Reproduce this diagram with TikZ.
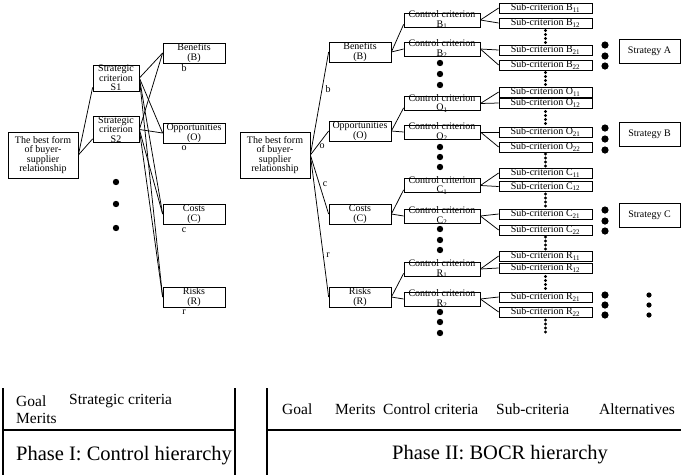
\documentclass[tikz,border=0pt]{standalone}
\usepackage{fontspec}
\setmainfont{Liberation Serif}

\newcommand{\fixbox}[3]{\parbox[c][#2][c]{#1}{\centering #3}}

\tikzset{
  box/.style={draw, line width=0.75pt, inner sep=0pt, align=center,
    font=\fontsize{10}{9.5}\selectfont},
  goalbox/.style={box, minimum width=70pt, minimum height=46pt},
  critbox/.style={box, minimum width=46pt, minimum height=26pt},
  meritbox/.style={box, minimum width=62pt, minimum height=20pt},
  ctrlbox/.style={box, minimum width=76pt, minimum height=14pt},
  subbox/.style={box, minimum width=93pt, minimum height=10pt,
    text height=6.5pt, text depth=1.5pt},
  altbox/.style={box, minimum width=61pt, minimum height=24pt},
  tag/.style={inner sep=0pt, font=\fontsize{10}{10}\selectfont},
  link/.style={line width=0.75pt},
  panel/.style={line width=1.6pt},
  headtext/.style={inner sep=0pt, anchor=west, font=\fontsize{15.5}{15}\selectfont},
  phasetext/.style={inner sep=0pt, font=\fontsize{20.5}{20}\selectfont}
}

\begin{document}
\begin{tikzpicture}[x=1pt, y=-1pt]
    \useasboundingbox (0,0) rectangle (681,475);

    % Phase I: goal and strategic criteria
    \node[goalbox] (goalI) at (43,155) {The best form\\of buyer-\\supplier\\relationship};
    \node[critbox] (sI) at (116,78) {Strategic\\criterion\\S1};
    \node[critbox] (sII) at (116,129.5) {Strategic\\criterion\\S2};

    % Phase I: merits
    \node[meritbox] (benI) at (194,53) {Benefits\\(B)};
    \node[meritbox] (oppI) at (194,133) {Opportunities\\(O)};
    \node[meritbox] (costI) at (194,214) {Costs\\(C)};
    \node[meritbox] (riskI) at (194,297) {Risks\\(R)};
    \node[tag] (tbI) at (184,68) {b};
    \node[tag] (toI) at (184,148) {o};
    \node[tag] (tcI) at (184,230) {c};
    \node[tag] (trI) at (184,312) {r};

    \draw[link] (goalI.east) -- ([yshift=4pt]sI.south west);
    \draw[link] (goalI.east) -- ([yshift=4pt]sII.south west);
    \foreach \s in {sI,sII}
      \foreach \m in {benI,oppI,costI,riskI}
        \draw[link] (\s.east) -- (\m.west);

    % Phase I: more strategic criteria
    \foreach \y in {182,204,228}
      \fill (116,\y) circle (3.2pt);

    % Phase II: goal and merits
    \node[goalbox] (goalII) at (275,155) {The best form\\of buyer-\\supplier\\relationship};
    \node[meritbox] (mB) at (360,52) {Benefits\\(B)};
    \node[meritbox] (mO) at (360,131) {Opportunities\\(O)};
    \node[meritbox] (mC) at (360,214) {Costs\\(C)};
    \node[meritbox] (mR) at (360,297) {Risks\\(R)};
    \node[tag] (tbII) at (328,89) {b};
    \node[tag] (toII) at (322,146) {o};
    \node[tag] (tcII) at (325,184) {c};
    \node[tag] (trII) at (328,255) {r};

    \foreach \m in {mB,mO,mC,mR}
      \draw[link] (goalII.east) -- (\m.west);

    % Phase II: control criteria
    \foreach \m/\j/\y in {B/1/20, B/2/49, O/1/103.5, O/2/132, C/1/185.5, C/2/216, R/1/269, R/2/299}
      \node[ctrlbox] (c\m\j) at (442,\y) {\fixbox{76pt}{14pt}{Control criterion\\\m\textsubscript{\j}}};

    \foreach \m in {B,O,C,R} {
      \draw[link] (m\m.east) -- ([yshift=3pt]c\m1.south west);
      \draw[link] (m\m.east) -- (c\m2.west);
    }
    \foreach \y in {63,74,85, 147,157,167, 229,240,250, 312,322,333}
      \fill (440,\y) circle (3.2pt);

    % Phase II: sub-criteria
    \foreach \m/\i/\y in {B/11/8, B/12/23, B/21/50, B/22/65, O/11/92, O/12/103, O/21/132, O/22/147,
                          C/11/173, C/12/186.5, C/21/214, C/22/230, R/11/256, R/12/268, R/21/297, R/22/312}
      \node[subbox] (s\m\i) at (545.5,\y) {Sub-criterion \m\textsubscript{\i}};

    \foreach \m in {B,O,C,R}
      \foreach \j in {1,2} {
        \draw[link] (c\m\j.east) -- (s\m\j1.west);
        \draw[link] (c\m\j.east) -- (s\m\j2.west);
      }
    \foreach \y in {36.5,78.5,117.5,160,200,243,282.5,326}
      \foreach \d in {-6,-2,2,6}
        \fill (545.5,\y+\d) circle (1.7pt);

    % Alternatives
    \node[altbox] (altA) at (649.5,51.5) {Strategy A};
    \node[altbox] (altB) at (649.5,134.5) {Strategy B};
    \node[altbox] (altC) at (649.5,215.5) {Strategy C};
    \foreach \y in {45,56,66, 128,139,150, 210,221,231, 295,305,315}
      \fill (605,\y) circle (3.6pt);
    \foreach \y in {295,305,315}
      \fill (649,\y) circle (2.6pt);

    % Legend panels
    \draw[panel] (3,388) -- (3,475);
    \draw[panel] (235,388) -- (235,475);
    \draw[panel] (3,430) -- (235,430);
    \draw[panel] (267,388) -- (267,475);
    \draw[panel] (267,430) -- (681,430);

    \node[headtext] (hGoalI) at (16,401) {Goal};
    \node[headtext] (hStrat) at (69,401) {Strategic criteria};
    \node[headtext] (hMeritI) at (16,418) {Merits};
    \node[phasetext, anchor=west] (phI) at (16,456) {Phase I: Control hierarchy};

    \node[headtext] (hGoalII) at (282,409) {Goal};
    \node[headtext] (hMeritII) at (335,409) {Merits};
    \node[headtext] (hCtrl) at (383,409) {Control criteria};
    \node[headtext] (hSub) at (496,409) {Sub-criteria};
    \node[headtext] (hAlt) at (599,409) {Alternatives};
    \node[phasetext] (phII) at (500,455) {Phase II: BOCR hierarchy};

\end{tikzpicture}
\end{document}
